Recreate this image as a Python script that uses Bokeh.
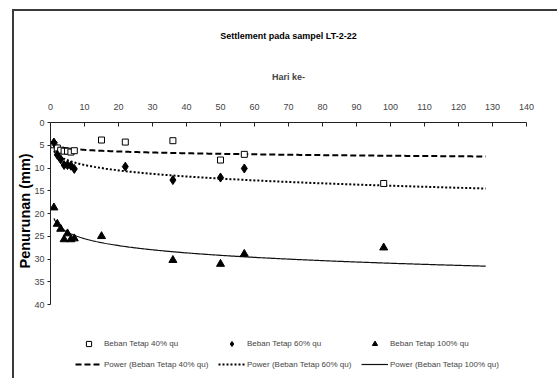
import numpy as np
from bokeh.plotting import figure
from bokeh.models import Range1d, Legend, LegendItem, FixedTicker, Title
from bokeh.embed import file_html
from bokeh.resources import INLINE

# ---- data ----
days_40 = [1, 2, 3, 4, 5, 6, 7, 15, 22, 36, 50, 57, 98]
settle_40 = [4.9, 5.6, 6.1, 6.3, 6.3, 6.5, 6.2, 3.85, 4.3, 4.0, 8.25, 7.0, 13.4]

days_60 = [1, 2, 3, 4, 5, 6, 7, 22, 36, 50, 57]
settle_60 = [4.4, 7.1, 8.1, 9.35, 9.35, 9.5, 10.2, 9.7, 12.65, 12.1, 10.1]

days_100 = [1, 2, 3, 4, 5, 6, 7, 15, 36, 50, 57, 98]
settle_100 = [18.7, 22.3, 23.4, 25.7, 24.4, 25.7, 25.5, 25.0, 30.25, 31.1, 28.9, 27.5]

x_ticks = [0, 10, 20, 30, 40, 50, 60, 70, 80, 90, 100, 110, 120, 130, 140]
y_ticks = [0, 5, 10, 15, 20, 25, 30, 35, 40]
y_axis_max = 40
forecast_days = 30

title_text = "Settlement pada sampel LT-2-22"
x_label = "Hari ke-"
y_label = "Penurunan (mm)"
labels_pts = ["Beban Tetap 40% qu", "Beban Tetap 60% qu", "Beban Tetap 100% qu"]
labels_fit = ["Power (Beban Tetap 40% qu)", "Power (Beban Tetap 60% qu)",
              "Power (Beban Tetap 100% qu)"]

FONT = "Liberation Sans"
trend_end = max(days_40 + days_60 + days_100) + forecast_days

# layout geometry (pixels): the frame runs to the bottom of the canvas so the
# legend can live inside it; the y axis itself is bounded to 0..40
W, H = 557, 378
FRAME_TOP = 122
AXIS_BOTTOM = 304
y_view_max = y_axis_max * (H - FRAME_TOP) / (AXIS_BOTTOM - FRAME_TOP)


def power_fit(xs, ys):
    lx = np.log(np.asarray(xs, float))
    ly = np.log(np.asarray(ys, float))
    b, lna = np.polyfit(lx, ly, 1)
    xx = np.linspace(min(xs), trend_end, 300)
    return xx, np.exp(lna) * xx ** b


p = figure(width=W, height=H, output_backend="svg", toolbar_location=None,
           x_range=Range1d(0, 140), y_range=Range1d(y_view_max, 0),
           x_axis_location="above",
           title=title_text,
           min_border_left=50, min_border_right=31,
           min_border_top=FRAME_TOP, min_border_bottom=0)

p.outline_line_color = None
p.xgrid.visible = False
p.ygrid.visible = False
p.background_fill_color = "white"
p.border_fill_alpha = 0
p.styles = {
    "background-color": "white",
    "background-image": "linear-gradient(#3a3a3a, #3a3a3a), linear-gradient(#3a3a3a, #3a3a3a)",
    "background-size": "2px 372px, 546px 2px",
    "background-position": "12px 9px, 12px 9px",
    "background-repeat": "no-repeat",
}

p.title.text_font = FONT
p.title.text_font_size = "9px"
p.title.text_font_style = "bold"
p.title.align = "center"
p.title.text_color = "black"
p.title.standoff = 55

xa = p.xaxis[0]
xa.ticker = FixedTicker(ticks=x_ticks)
xa.axis_label = x_label
xa.axis_label_text_font = FONT
xa.axis_label_text_font_size = "9px"
xa.axis_label_text_font_style = "bold"
xa.axis_label_standoff = 19
xa.major_label_text_font = FONT
xa.major_label_text_font_size = "9px"
xa.major_label_standoff = 13
xa.major_tick_in = 4
xa.major_tick_out = 0
xa.minor_tick_in = 0
xa.minor_tick_out = 0
xa.axis_line_color = "#222222"
xa.major_tick_line_color = "#222222"

ya = p.yaxis[0]
ya.ticker = FixedTicker(ticks=y_ticks)
ya.bounds = (0, y_axis_max)
ya.major_label_text_font = FONT
ya.major_label_text_font_size = "9px"
ya.major_label_standoff = 3
ya.major_tick_in = 0
ya.major_tick_out = 3
ya.minor_tick_in = 0
ya.minor_tick_out = 0
ya.axis_line_color = "#222222"
ya.major_tick_line_color = "#222222"

# y axis title, centred on the bounded axis (0..40) rather than the full frame
y_title = Title(text=y_label, align="left", offset=110, standoff=-3,
                text_font=FONT, text_font_size="14.5px", text_font_style="bold",
                text_color="black")
p.add_layout(y_title, "left")

# trendlines
fx40, fy40 = power_fit(days_40, settle_40)
fx60, fy60 = power_fit(days_60, settle_60)
fx100, fy100 = power_fit(days_100, settle_100)
l40 = p.line(fx40, fy40, line_color="black", line_width=2, line_dash="6 3")
l60 = p.line(fx60, fy60, line_color="black", line_width=2, line_dash="2 2")
l100 = p.line(fx100, fy100, line_color="#111111", line_width=1.2)

# points
s40 = p.scatter(days_40, settle_40, marker="square", size=6, fill_color="white",
                line_color="black", line_width=1)
s60 = p.scatter(days_60, settle_60, marker="diamond", size=9, fill_color="black",
                line_color="black")
s100 = p.scatter(days_100, settle_100, marker="triangle", size=8, fill_color="black",
                 line_color="black")

common = dict(orientation="horizontal", glyph_width=27, label_width=113,
              label_standoff=2, spacing=1, padding=0, margin=0,
              border_line_color=None, background_fill_alpha=0,
              label_text_font=FONT, label_text_font_size="8px")

legend_pts = Legend(items=[
    LegendItem(label=labels_pts[0], renderers=[s40]),
    LegendItem(label=labels_pts[1], renderers=[s60]),
    LegendItem(label=labels_pts[2], renderers=[s100]),
], location=(25, 28), glyph_height=13, label_height=13, **common)

legend_fit = Legend(items=[
    LegendItem(label=labels_fit[0], renderers=[l40]),
    LegendItem(label=labels_fit[1], renderers=[l60]),
    LegendItem(label=labels_fit[2], renderers=[l100]),
], location=(25, 4), glyph_height=20, label_height=20, **common)

p.add_layout(legend_pts, "center")
p.add_layout(legend_fit, "center")

open("out.html", "w").write(file_html(p, INLINE))
